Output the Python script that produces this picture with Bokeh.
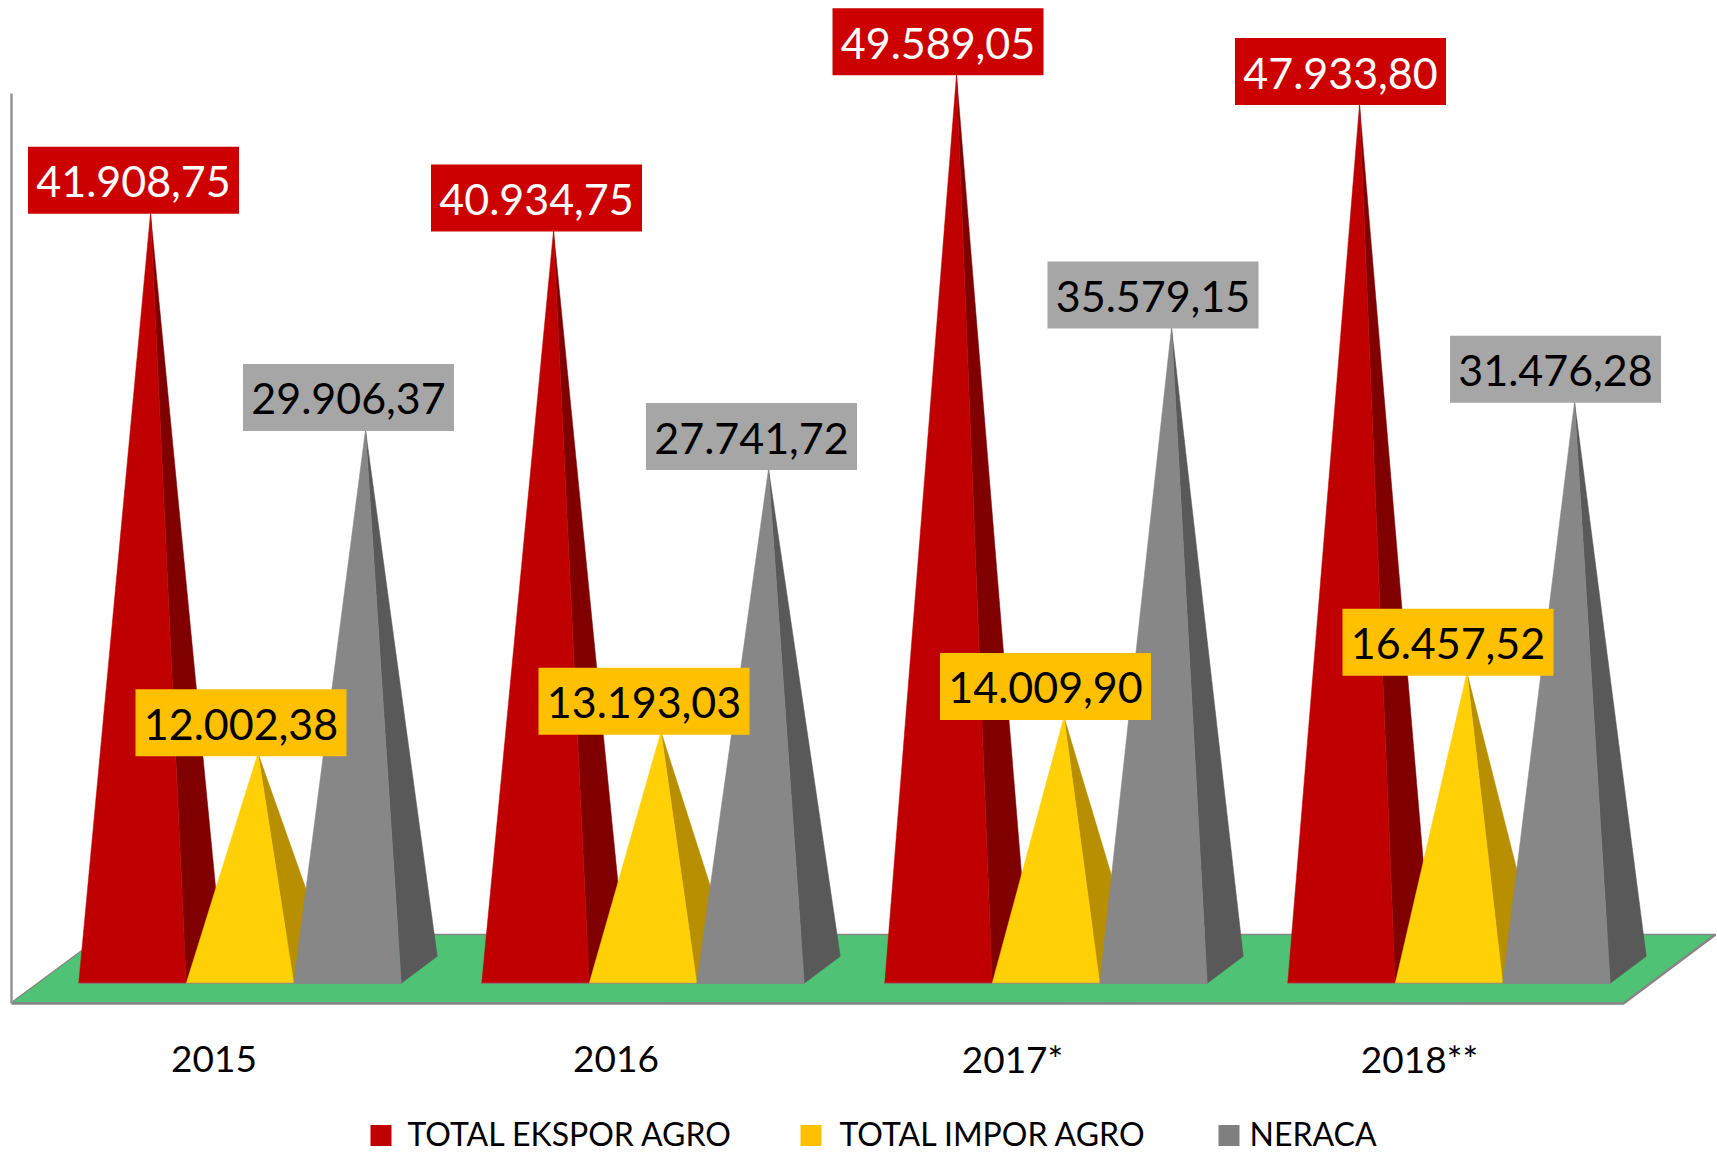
from bokeh.plotting import figure
from bokeh.embed import file_html
from bokeh.resources import INLINE
from bokeh.models import Range1d
from bokeh.core.properties import value

# ---------- data ----------
categories = ["2015", "2016", "2017*", "2018**"]
series_names = ["TOTAL  EKSPOR AGRO", "TOTAL  IMPOR AGRO", "NERACA"]
ekspor = [41908.75, 40934.75, 49589.05, 47933.80]
impor = [12002.38, 13193.03, 14009.90, 16457.52]
neraca = [29906.37, 27741.72, 35579.15, 31476.28]
ekspor_labels = ["41.908,75", "40.934,75", "49.589,05", "47.933,80"]
impor_labels = ["12.002,38", "13.193,03", "14.009,90", "16.457,52"]
neraca_labels = ["29.906,37", "27.741,72", "35.579,15", "31.476,28"]

# ---------- styles ----------
FRONT = ["#C00000", "#FFD006", "#878787"]
SIDE = ["#800000", "#B88F00", "#595959"]
BOX = ["#CC0000", "#FFC000", "#A6A6A6"]
BOX_TEXT = ["#FFFFFF", "#000000", "#000000"]
SWATCH = ["#C00000", "#FFC000", "#7F7F7F"]
FLOOR = "#4FC275"
EDGE = "#868686"
FONT = "Lato"

W, H = 1717, 1152
PX_PER_GROUP = 403.0
PX_PER_UNIT = 0.01805
ZERO_Y = 969.3   # picture y of value 0 (centre of pyramid bases)
GROUP_X = 239.5  # picture x of group 0


def X(px):
    return (px - GROUP_X) / PX_PER_GROUP


def Y(py):
    return (ZERO_Y - py) / PX_PER_UNIT


p = figure(width=W, height=H, output_backend="svg", toolbar_location=None,
           x_range=Range1d(X(0), X(W)), y_range=Range1d(Y(H), Y(0)),
           min_border=0, outline_line_color=None, background_fill_color="#FFFFFF")
p.xaxis.visible = False
p.yaxis.visible = False
p.grid.visible = False

# floor and walls
p.patch([X(11), X(103), X(1715), X(1623)], [Y(1002), Y(934), Y(934), Y(1003)],
        fill_color=FLOOR, line_color=EDGE, line_width=1.5)
p.line([X(11), X(1623), X(1715)], [Y(1003), Y(1003), Y(934)], line_color=EDGE, line_width=2.5)
p.line([X(11), X(11)], [Y(93), Y(1003)], line_color="#969696", line_width=2.5)

PYR = X(107.5 + GROUP_X)        # pyramid width, x units
DX = 36 / PX_PER_GROUP          # depth in x
DY = 27 / PX_PER_UNIT           # depth in y
FRONT_Y = -DY / 2

series = [ekspor, impor, neraca]
labels = [ekspor_labels, impor_labels, neraca_labels]
label_nudge_px = [0.5, 3.0, 1.0]   # gap of the label box below the computed apex
label_shift_px = [0, 0, -1.5, -2]  # horizontal shift of each group's label boxes

for g in range(len(categories)):
    for s, vals in enumerate(series):
        cx = g + (s - 1) * PYR
        left, right = cx - PYR / 2, cx + PYR / 2
        ax, ay = cx + DX / 2, vals[g]
        p.patch([right, right + DX, ax], [FRONT_Y, FRONT_Y + DY, ay],
                fill_color=SIDE[s], line_color=SIDE[s], line_width=0.5)
        p.patch([left, right, ax], [FRONT_Y, FRONT_Y, ay],
                fill_color=FRONT[s], line_color=FRONT[s], line_width=0.5)
    p.line([g - 1.5 * PYR, g + 1.5 * PYR], [FRONT_Y, FRONT_Y], line_color=EDGE, line_width=1)

BOX_W = 211 / PX_PER_GROUP
BOX_H = 67 / PX_PER_UNIT
TEXT_DROP = 1.5 / PX_PER_UNIT
for g in range(len(categories)):
    for s, vals in enumerate(series):
        cx = g + (s - 1) * PYR + (1 + label_shift_px[g]) / PX_PER_GROUP
        bottom = vals[g] - label_nudge_px[s] / PX_PER_UNIT
        p.rect([cx], [bottom + BOX_H / 2], width=BOX_W, height=BOX_H,
               fill_color=BOX[s], line_color=None)
        p.text([cx], [bottom + BOX_H / 2 - TEXT_DROP], text=[labels[s][g]], text_align="center",
               text_baseline="middle", text_font=value(FONT), text_font_size="43px",
               text_color=BOX_TEXT[s])

# category labels
cat_centers_px = [213.5, 615.5, 1012, 1419]
p.text([X(c) for c in cat_centers_px], [Y(1058)] * 4, text=categories, text_align="center",
       text_baseline="middle", text_font=value(FONT), text_font_size="37px", text_color="#000000")

# legend
swatch_px = [370, 800, 1218]
text_px = [407, 839, 1249]
for i, name in enumerate(series_names):
    p.rect([X(swatch_px[i] + 10.5)], [Y(1135)], width=21 / PX_PER_GROUP, height=21 / PX_PER_UNIT,
           fill_color=SWATCH[i], line_color=None)
    p.text([X(text_px[i])], [Y(1133)], text=[name], text_align="left", text_baseline="middle",
           text_font=value(FONT), text_font_size="32px", text_color="#000000")

open("out.html", "w").write(file_html(p, INLINE))
